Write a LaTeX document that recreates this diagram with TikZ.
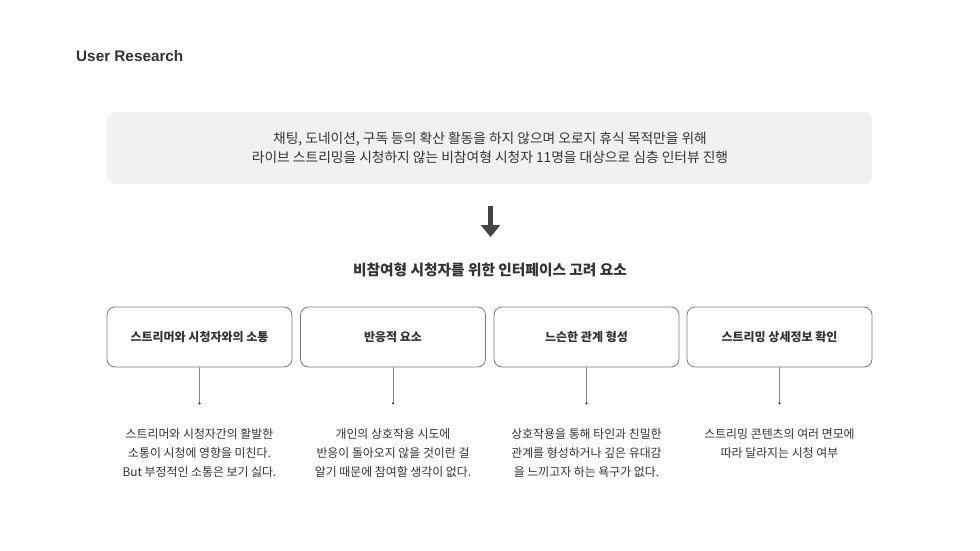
\documentclass[tikz,border=0pt]{standalone}
\usepackage{fontspec}
\setmainfont{Noto Sans CJK KR}
\newfontfamily\titlefont{Liberation Sans}
\usetikzlibrary{arrows.meta,positioning}
\definecolor{txt}{HTML}{333333}
\definecolor{bannerfill}{HTML}{F1F1F4}
\definecolor{boxline}{HTML}{7A7A7A}
\definecolor{conn}{HTML}{8A8A8A}
\definecolor{arrowc}{HTML}{454545}
\tikzset{
  catbox/.style={draw=boxline, line width=0.8pt, rounded corners=8pt, minimum width=185pt, minimum height=60pt, inner sep=0pt, text=txt, font=\fontsize{12}{14}\selectfont\bfseries},
  desc/.style={align=center, text=txt, inner sep=0pt, font=\fontsize{11.9}{19}\selectfont},
  connline/.style={draw=conn, line width=0.6pt},
}
\begin{document}
\begin{tikzpicture}[x=1pt,y=-1pt]
\useasboundingbox (0,0) rectangle (980,551);
% title
\node[anchor=west, inner sep=0pt, text=txt, font=\titlefont\fontsize{15.3}{18}\selectfont\bfseries] (title) at (76,56) {User Research};
% banner
\node[fill=bannerfill, rounded corners=8pt, minimum width=765pt, minimum height=72pt, inner sep=0pt] (banner) at (489.5,148) {};
\node[align=center, text=txt, inner sep=0pt, font=\fontsize{13.75}{19}\selectfont] (bannertext) at (490,147.5) {채팅, 도네이션, 구독 등의 확산 활동을 하지 않으며 오로지 휴식 목적만을 위해\\라이브 스트리밍을 시청하지 않는 비참여형 시청자 11명을 대상으로 심층 인터뷰 진행};
% arrow
\coordinate (a1) at (490.5,206);
\coordinate (a2) at (490.5,237);
\draw[arrowc, line width=5pt, -{Triangle[width=19pt,length=12pt]}] (a1) -- (a2);
% heading
\node[inner sep=0pt, text=txt, font=\fontsize{14.7}{17}\selectfont\bfseries] (heading) at (490,270) {비참여형 시청자를 위한 인터페이스 고려 요소};
% boxes
\node[catbox] (b1) at (199.5,337) {스트리머와 시청자와의 소통};
\node[catbox] (b2) at (393,337) {반응적 요소};
\node[catbox] (b3) at (586.5,337) {느슨한 관계 형성};
\node[catbox] (b4) at (779.5,337) {스트리밍 상세정보 확인};
% connectors
\foreach \i in {1,2,3,4}{
  \coordinate (d\i) at ([yshift=-36pt]b\i.south);
  \draw[connline] (b\i.south) -- (d\i);
  \fill[arrowc] (d\i) circle (1.3pt);
}
% descriptions
\node[desc] (t1) at (199.5,453) {스트리머와 시청자간의 활발한\\소통이 시청에 영향을 미친다.\\But 부정적인 소통은 보기 싫다.};
\node[desc] (t2) at (393,453) {개인의 상호작용 시도에\\반응이 돌아오지 않을 것이란 걸\\알기 때문에 참여할 생각이 없다.};
\node[desc] (t3) at (586.5,453) {상호작용을 통해 타인과 친밀한\\관계를 형성하거나 깊은 유대감\\을 느끼고자 하는 욕구가 없다.};
\node[desc] (t4) at (779.5,443.5) {스트리밍 콘텐츠의 여러 면모에\\따라 달라지는 시청 여부};
\end{tikzpicture}
\end{document}
